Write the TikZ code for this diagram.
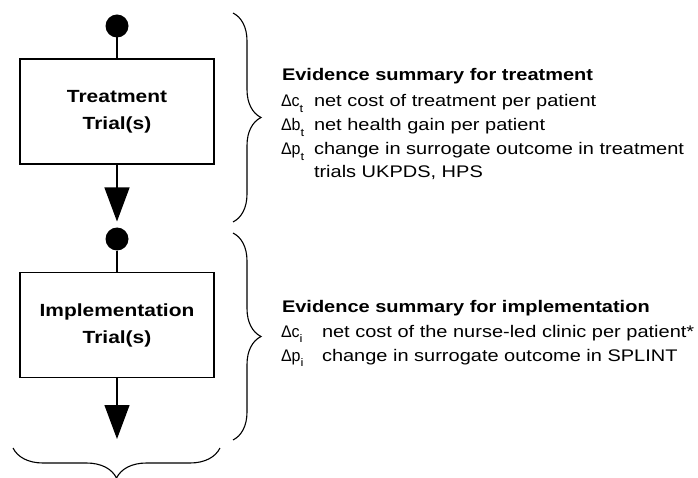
\documentclass[tikz,border=0pt]{standalone}
\usepackage{fontspec}
\setmainfont{Liberation Sans}[FakeStretch=1.19]
\usetikzlibrary{arrows.meta,decorations.pathreplacing}
\newcommand\lowsub[1]{\raisebox{-0.32em}{\fontsize{11}{11}\selectfont #1}}
\newcommand\dsym[2]{\scalebox{0.8}[1]{Δ#1}\lowsub{#2}}
\begin{document}
\begin{tikzpicture}[x=1pt,y=-1pt,
  every node/.style={inner sep=0pt,outer sep=0pt},
  trialbox/.style={draw,line width=1.2pt,minimum width=194pt,minimum height=105pt,align=center,font=\fontsize{17.6}{27}\selectfont\bfseries},
  dot/.style={circle,fill=black,minimum size=23pt},
  wire/.style={line width=1.2pt},
  arr/.style={wire,-{Triangle[width=25pt,length=34pt]}},
  curly/.style={decorate,decoration={brace,amplitude=#1},line width=1.1pt},
  head/.style={anchor=base west,font=\fontsize{16.8}{19}\selectfont\bfseries},
  txt/.style={anchor=base west,font=\fontsize{16.8}{19}\selectfont}]
\useasboundingbox (0,0) rectangle (698,478);
% flow
\node[dot] (d1) at (117,26) {};
\node[trialbox] (b1) at (117,111.5) {Treatment\\Trial(s)};
\node[dot] (d2) at (117,239) {};
\node[trialbox] (b2) at (117,325) {Implementation\\Trial(s)};
\coordinate (e2) at (117,439);
\draw[wire] (d1) -- (b1);
\draw[arr,shorten >=6pt] (b1) -- (d2);
\draw[wire] (d2) -- (b2);
\draw[arr] (b2) -- (e2);
% braces
\coordinate (r1a) at (233,13);
\coordinate (r1b) at (233,222);
\coordinate (r2a) at (233,233);
\coordinate (r2b) at (233,440);
\coordinate (bta) at (220,448);
\coordinate (btb) at (13,448);
\draw[curly=28pt] (r1a) -- (r1b);
\draw[curly=28pt] (r2a) -- (r2b);
\draw[curly=30pt] (bta) -- (btb);
% treatment evidence
\node[head] (h1) at (282,81) {Evidence summary for treatment};
\node[txt] (s1) at (281,107) {\dsym{c}{t}};
\node[txt] (t1) at (314,107) {net cost of treatment per patient};
\node[txt] (s2) at (281,131) {\dsym{b}{t}};
\node[txt] (t2) at (314,131) {net health gain per patient};
\node[txt] (s3) at (281,155) {\dsym{p}{t}};
\node[txt] (t3) at (314,155) {change in surrogate outcome in treatment};
\node[txt] (t4) at (314,178) {trials UKPDS, HPS};
% implementation evidence
\node[head] (h2) at (282,312) {Evidence summary for implementation};
\node[txt] (s5) at (281,337) {\dsym{c}{i}};
\node[txt] (t5) at (322,337) {net cost of the nurse-led clinic per patient*};
\node[txt] (s6) at (281,361) {\dsym{p}{i}};
\node[txt] (t6) at (322,361) {change in surrogate outcome in SPLINT};
\end{tikzpicture}
\end{document}
